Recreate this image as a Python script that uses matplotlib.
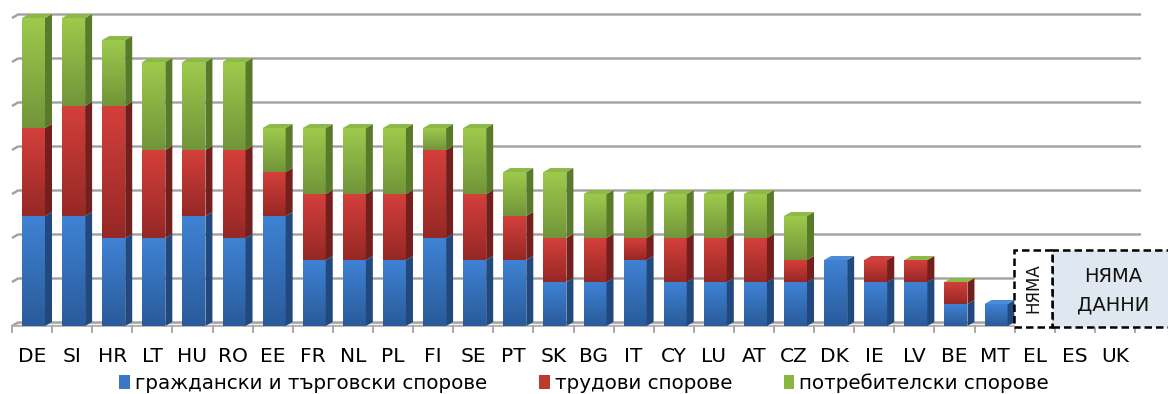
import numpy as np
import matplotlib.pyplot as plt
from matplotlib.patches import Polygon, Rectangle, Patch
from matplotlib.colors import to_rgb

plt.rcParams['font.family'] = ['DejaVu Sans']

# ---- data -------------------------------------------------------------
countries = ['DE', 'SI', 'HR', 'LT', 'HU', 'RO', 'EE', 'FR', 'NL', 'PL', 'FI',
             'SE', 'PT', 'SK', 'BG', 'IT', 'CY', 'LU', 'AT', 'CZ', 'DK', 'IE',
             'LV', 'BE', 'MT', 'EL', 'ES', 'UK']
nan = np.nan
civil = [2.5, 2.5, 2, 2, 2.5, 2, 2.5, 1.5, 1.5, 1.5, 2, 1.5, 1.5, 1, 1, 1.5,
         1, 1, 1, 1, 1.5, 1, 1, 0.5, 0.5, nan, nan, nan]
labour = [2, 2.5, 3, 2, 1.5, 2, 1, 1.5, 1.5, 1.5, 2, 1.5, 1, 1, 1, 0.5,
          1, 1, 1, 0.5, nan, 0.5, 0.5, 0.5, nan, nan, nan, nan]
consumer = [2.5, 2, 1.5, 2, 2, 2, 1, 1.5, 1.5, 1.5, 0.5, 1.5, 1, 1.5, 1, 1,
            1, 1, 1, 1, nan, nan, 0, 0, nan, nan, nan, nan]
series_names = ['граждански и търговски спорове', 'трудови спорове',
                'потребителски спорове']
no_data_short = 'НЯМА'
no_data_long = ['НЯМА', 'ДАННИ']

# face colours per series: (front top, front bottom, side, cap)
styles = [
    ('#3f82d4', '#2a5b9a', '#22497d', '#4b8bd8'),
    ('#d43f3b', '#962825', '#731f1d', '#c9423e'),
    ('#9dca4c', '#72953a', '#5a7a2b', '#8cb948'),
]
legend_colors = ['#3a78c6', '#c0392f', '#8ab543']

# ---- figure / axes ----------------------------------------------------
W, H = 1168, 394
fig = plt.figure(figsize=(W / 100, H / 100), dpi=100)
fig.patch.set_facecolor('white')
x0px, x1px = 12, 1135
y0px, y7px = 326, 18
ax = fig.add_axes([x0px / W, (H - y0px) / H, (x1px - x0px) / W,
                   (y0px - y7px) / H])
n = len(countries)
ax.set_xlim(0, n)
ax.set_ylim(0, 7)
ax.axis('off')

ux = n / (x1px - x0px)      # data units per pixel, x
uy = 7 / (y0px - y7px)      # data units per pixel, y

depth_x, depth_y = 7 * ux, 4 * uy
off, bw = 10 * ux, 23 * ux

# back wall gridlines and floor
grid_c = '#a0a0a0'
wall_dx, wall_dy = 6 * ux, 3.5 * uy
right_end = (1141 - x0px) * ux
for v in range(0, 8):
    ax.plot([0, wall_dx, right_end], [v, v + wall_dy, v + wall_dy],
            color=grid_c, lw=1.7, zorder=1, clip_on=False,
            solid_capstyle='butt')
ax.add_patch(Polygon([[0, 0], [wall_dx, wall_dy], [right_end, wall_dy],
                      [n, 0]], closed=True, facecolor='#ececec',
                     edgecolor='none', zorder=0.9, clip_on=False))
ax.plot([0, n], [0, 0], color='#b5b5b5', lw=1.4, zorder=1.1, clip_on=False)
for k in range(n + 1):
    ax.plot([k, k], [0, -6 * uy], color='#a8a8a8', lw=1.4, zorder=1.1,
            clip_on=False)


def grad(c_top, c_bot, steps=64):
    a = np.array(to_rgb(c_top))
    b = np.array(to_rgb(c_bot))
    t = np.linspace(0, 1, steps)[:, None]
    return (a * (1 - t) + b * t)[:, None, :]


# ---- stacked 3-D bars -------------------------------------------------
data = [civil, labour, consumer]
for i in range(n):
    xl = i + off
    xr = xl + bw
    base = 0.0
    cap = None
    for s, vals in enumerate(data):
        v = vals[i]
        if np.isnan(v):
            continue
        top, bot, side, capc = styles[s]
        if v > 0:
            ax.imshow(grad(top, bot), extent=[xl, xr, base, base + v],
                      aspect='auto', interpolation='bilinear', zorder=3,
                      clip_on=False)
            ax.add_patch(Polygon([[xr, base], [xr + depth_x, base + depth_y],
                                  [xr + depth_x, base + v + depth_y],
                                  [xr, base + v]], closed=True,
                                 facecolor=side, edgecolor='none', zorder=3,
                                 clip_on=False))
        base += v
        cap = capc
    if cap is not None:
        ax.add_patch(Polygon([[xl, base], [xr, base],
                              [xr + depth_x, base + depth_y],
                              [xl + depth_x, base + depth_y]], closed=True,
                             facecolor=cap, edgecolor='none', zorder=3.5,
                             clip_on=False))

ax.set_xlim(0, n)
ax.set_ylim(0, 7)

# ---- "no data" boxes ---------------------------------------------------
bx0 = (1014 - x0px) * ux
bx1 = (1052 - x0px) * ux
bx2 = (1172 - x0px) * ux
by0 = (y0px - 327) * uy
by1 = (y0px - 250) * uy
ax.add_patch(Rectangle((bx1, by0), bx2 - bx1, by1 - by0, facecolor='#dfe7f1',
                       edgecolor='black', lw=1.8, ls=(0, (3, 1.6)), zorder=5,
                       clip_on=False))
ax.add_patch(Rectangle((bx0, by0), bx1 - bx0, by1 - by0, facecolor='white',
                       edgecolor='black', lw=1.8, ls=(0, (3, 1.6)), zorder=6,
                       clip_on=False))
ax.text((bx0 + bx1) / 2, (y0px - 288) * uy, no_data_short, rotation=90,
        ha='center', va='center', fontsize=12, color='#111111', zorder=7)
ax.text((1113 - x0px) * ux, (y0px - 276) * uy, no_data_long[0],
        ha='center', va='center', fontsize=14, color='#111111', zorder=7)
ax.text((1113 - x0px) * ux, (y0px - 305) * uy, no_data_long[1],
        ha='center', va='center', fontsize=14, color='#111111', zorder=7)

# ---- category labels ---------------------------------------------------
for i, c in enumerate(countries):
    ax.text(i + 0.5, (y0px - 357) * uy, c, ha='center', va='center',
            fontsize=14.5, color='black', clip_on=False)

# ---- legend ------------------------------------------------------------
handles = [Patch(facecolor=legend_colors[k], edgecolor='none',
                 label=series_names[k]) for k in range(3)]
fig.legend(handles=handles, loc='center', bbox_to_anchor=(584 / W, 1 - 383 / H),
           ncol=3, frameon=False, fontsize=14.3, handlelength=0.55,
           handleheight=0.75, handletextpad=0.25, columnspacing=2.6,
           borderpad=0)

fig.savefig('out.png', dpi=100, facecolor='white')
